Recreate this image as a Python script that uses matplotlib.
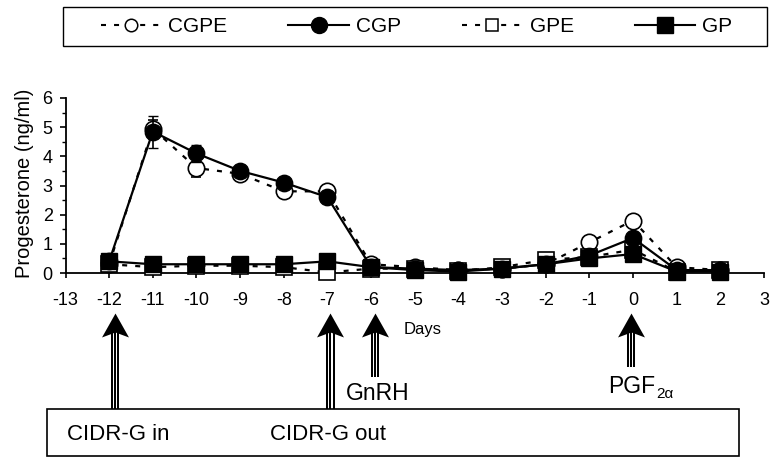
import matplotlib
matplotlib.use("Agg")
import matplotlib.pyplot as plt
from matplotlib import transforms
from matplotlib.lines import Line2D
from matplotlib.patches import Rectangle
from matplotlib.text import Annotation
from matplotlib.ticker import MultipleLocator

plt.rcParams['font.family'] = ['Liberation Sans', 'DejaVu Sans']
plt.rcParams['axes.unicode_minus'] = False
plt.rcParams['lines.scale_dashes'] = False

# ---------------- data ----------------
days = [-12, -11, -10, -9, -8, -7, -6, -5, -4, -3, -2, -1, 0, 1, 2]
cgpe = [0.30, 4.95, 3.60, 3.40, 2.80, 2.80, 0.30, 0.20, 0.10, 0.15, 0.30, 1.05, 1.80, 0.20, 0.10]
cgp  = [0.40, 4.85, 4.10, 3.50, 3.10, 2.60, 0.20, 0.15, 0.10, 0.15, 0.30, 0.60, 1.20, 0.10, 0.10]
gpe  = [0.30, 0.20, 0.25, 0.25, 0.20, 0.02, 0.15, 0.15, 0.06, 0.20, 0.45, 0.55, 0.80, 0.05, 0.10]
gp   = [0.40, 0.30, 0.30, 0.30, 0.30, 0.40, 0.20, 0.10, 0.05, 0.15, 0.30, 0.50, 0.65, 0.05, 0.05]
cgpe_err = [0.05, 0.30, 0.30, 0.10, 0.10, 0.10, 0.05, 0.05, 0.05, 0.05, 0.05, 0.10, 0.20, 0.05, 0.05]
cgp_err  = [0.05, 0.55, 0.30, 0.10, 0.10, 0.10, 0.05, 0.05, 0.05, 0.05, 0.05, 0.10, 0.15, 0.05, 0.05]
gpe_err  = [0.05, 0.05, 0.05, 0.05, 0.05, 0.05, 0.05, 0.05, 0.05, 0.05, 0.05, 0.05, 0.10, 0.05, 0.05]
gp_err   = [0.05, 0.05, 0.05, 0.05, 0.05, 0.05, 0.05, 0.05, 0.05, 0.05, 0.05, 0.05, 0.10, 0.05, 0.05]

x_ticks = list(range(-13, 4))
x_tick_labels = [str(d) for d in x_ticks]
y_ticks = [0, 1, 2, 3, 4, 5, 6]
y_tick_labels = [str(v) for v in y_ticks]

series_names = ['CGPE', 'CGP', 'GPE', 'GP']

# treatment events
event_days = [-12, -7, -6, 0]
event_shift = [0.14, 0.07, 0.09, -0.05]     # small visual offsets of arrows
event_shaft_bottom_px = [409, 409, 377, 367]

# ---------------- figure ----------------
W, H = 771, 457
fig = plt.figure(figsize=(W / 100, H / 100), dpi=100)

def fy(ypx):
    return 1 - ypx / H

def fx(xpx):
    return xpx / W

ax_l, ax_r, ax_t, ax_b = 65.5, 764, 98, 273
ax = fig.add_axes([fx(ax_l), fy(ax_b), fx(ax_r - ax_l), (ax_b - ax_t) / H])

dotted = (0, (3.6, 5.8))
styles = {
    'CGPE': dict(ls=dotted, marker='o', mfc='white', ms=11.8, mew=1.2, z=3),
    'GPE':  dict(ls=dotted, marker='s', mfc='white', ms=11.2, mew=1.2, z=4),
    'CGP':  dict(ls='-', marker='o', mfc='black', ms=11.8, mew=1.0, z=5),
    'GP':   dict(ls='-', marker='s', mfc='black', ms=11.2, mew=1.0, z=6),
}
data = {'CGPE': (cgpe, cgpe_err), 'CGP': (cgp, cgp_err), 'GPE': (gpe, gpe_err), 'GP': (gp, gp_err)}

for name in ['CGPE', 'GPE', 'CGP', 'GP']:
    vals, err = data[name]
    st = styles[name]
    ax.errorbar(days, vals, yerr=err, color='black', ls=st['ls'], lw=1.6,
                marker=st['marker'], mfc=st['mfc'], mec='black', ms=st['ms'], mew=st['mew'],
                ecolor='black', elinewidth=1.2, capsize=3.8, capthick=1.2,
                clip_on=False, zorder=st['z'])

ax.set_xlim(-13, 3)
ax.set_ylim(0, 6)
ax.set_xticks(x_ticks)
ax.set_xticklabels(x_tick_labels)
ax.set_yticks(y_ticks)
ax.set_yticklabels(y_tick_labels)
ax.yaxis.set_minor_locator(MultipleLocator(0.5))
for s in ['top', 'right']:
    ax.spines[s].set_visible(False)
for s in ['left', 'bottom']:
    ax.spines[s].set_linewidth(1.3)
ax.tick_params(axis='x', which='major', direction='out', length=3.8, width=1.2,
               labelsize=13, pad=10)
ax.tick_params(axis='y', which='major', direction='out', length=4.2, width=1.2,
               labelsize=13, pad=5)
ax.tick_params(axis='y', which='minor', direction='out', length=3.0, width=1.0)
ax.patch.set_alpha(0)

fig.text(fx(25), fy(183), 'Progesterone (ng/ml)', rotation=90, ha='center', va='center',
         fontsize=14.5)
fig.text(fx(404), fy(334), 'Days', ha='left', va='baseline', fontsize=12)

# ---------------- legend ----------------
handles = [
    Line2D([], [], color='black', ls=dotted, lw=1.5, marker='o', mfc='white', mec='black', ms=9, mew=1.1),
    Line2D([], [], color='black', ls='-', lw=1.5, marker='o', mfc='black', mec='black', ms=11.5),
    Line2D([], [], color='black', ls=dotted, lw=1.5, marker='s', mfc='white', mec='black', ms=8.5, mew=1.1),
    Line2D([], [], color='black', ls='-', lw=1.5, marker='s', mfc='black', mec='black', ms=11),
]
fig.add_artist(Rectangle((fx(63), fy(46)), fx(767 - 63), (46 - 7) / H, transform=fig.transFigure,
                         facecolor='white', edgecolor='black', lw=1.0))
leg = fig.legend(handles, series_names, ncol=4, loc='center',
                 bbox_to_anchor=(fx(416.5), fy(26.5)),
                 borderaxespad=0, fontsize=15, frameon=False,
                 handlelength=2.9, handletextpad=0.34,
                 borderpad=0.0, columnspacing=2.93)

# ---------------- treatment schedule ----------------
blend = transforms.blended_transform_factory(ax.transData, fig.transFigure)

head_verts = [(0, 12), (-13.5, -12), (0, -7), (13.5, -12), (0, 12)]
head_center_px = 325
for d, sh, bot in zip(event_days, event_shift, event_shaft_bottom_px):
    xd = d + sh
    for dx_px in (-3.2, 0.0, 3.2):
        tr = blend + transforms.ScaledTranslation(dx_px * 0.72 / 72, 0, fig.dpi_scale_trans)
        fig.add_artist(Line2D([xd, xd], [fy(330), fy(bot)], color='black', lw=1.45,
                              transform=tr, solid_capstyle='butt'))
    fig.add_artist(Line2D([xd], [fy(head_center_px)], ls='none', marker=head_verts,
                          ms=19.4, mfc='black', mec='none', transform=blend))

box = Rectangle((fx(47), fy(456)), fx(739 - 47), (456 - 409) / H, transform=fig.transFigure,
                facecolor='white', edgecolor='black', lw=1.2, zorder=1)
fig.add_artist(box)

fig.text(fx(67), fy(440), 'CIDR-G in', ha='left', va='baseline', fontsize=16)
fig.text(fx(270), fy(440), 'CIDR-G out', ha='left', va='baseline', fontsize=16)
fig.text(fx(378), fy(400), 'GnRH', ha='center', va='baseline', fontsize=16.5)
t_pgf = fig.text(fx(608), fy(393), 'PGF', ha='left', va='baseline', fontsize=16.5)
fig.add_artist(Annotation('2α', xy=(1.0, 0.0), xycoords=t_pgf,
                          xytext=(0.5, 0.3), textcoords='offset points',
                          ha='left', va='baseline', fontsize=11))

fig.savefig('out.png', dpi=100)
